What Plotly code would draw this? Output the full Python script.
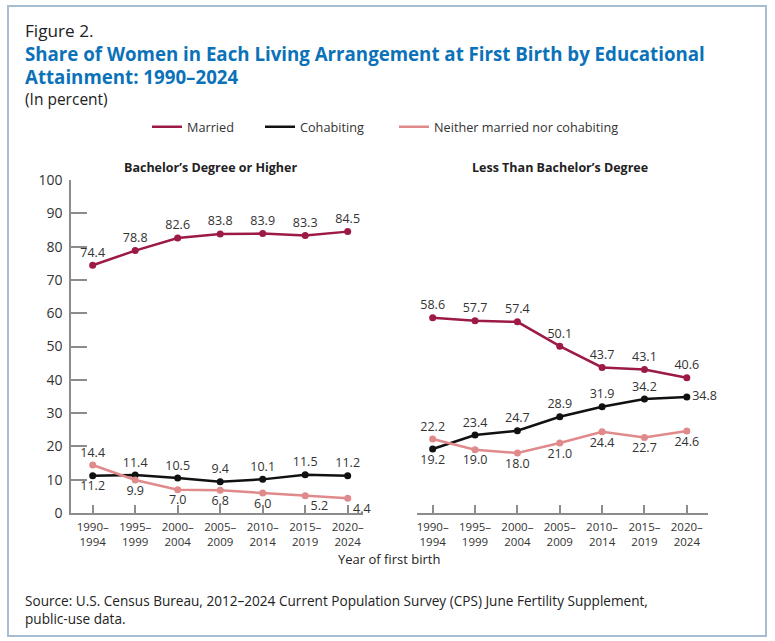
import plotly.graph_objects as go

period_start = ["1990", "1995", "2000", "2005", "2010", "2015", "2020"]
period_end = ["1994", "1999", "2004", "2009", "2014", "2019", "2024"]
yticks = [0, 10, 20, 30, 40, 50, 60, 70, 80, 90, 100]

ba_married = [74.4, 78.8, 82.6, 83.8, 83.9, 83.3, 84.5]
ba_cohab = [11.2, 11.4, 10.5, 9.4, 10.1, 11.5, 11.2]
ba_neither = [14.4, 9.9, 7.0, 6.8, 6.0, 5.2, 4.4]

lt_married = [58.6, 57.7, 57.4, 50.1, 43.7, 43.1, 40.6]
lt_cohab = [19.2, 23.4, 24.7, 28.9, 31.9, 34.2, 34.8]
lt_neither = [22.2, 19.0, 18.0, 21.0, 24.4, 22.7, 24.6]

series_names = ["Married", "Cohabiting", "Neither married nor cohabiting"]

C_MAR = "#9c1a45"
C_COH = "#111111"
C_NEI = "#e08a8b"
BLUE = "#0b72b9"
FONT = "Open Sans"
W, H = 775, 641

xs = list(range(len(period_start)))
period_labels = [f"{s}–<br>{e}" for s, e in zip(period_start, period_end)]
fig = go.Figure()

def add(y, color, xa, ya, pos):
    fig.add_trace(go.Scatter(
        x=xs, y=y, mode="lines+markers+text", showlegend=False,
        line=dict(color=color, width=2.5), marker=dict(color=color, size=7),
        text=[f"{v:.1f}" for v in y], textposition=pos,
        textfont=dict(family=FONT, size=12.5, color="#333333"),
        xaxis=xa, yaxis=ya, cliponaxis=False, hoverinfo="skip"))

tc, bc = "top center", "bottom center"
add(ba_married, C_MAR, "x", "y", [tc]*7)
add(ba_cohab, C_COH, "x", "y", [bc] + [tc]*6)
add(ba_neither, C_NEI, "x", "y", [tc, bc, bc, bc, bc, "bottom right", "bottom right"])
add(lt_married, C_MAR, "x2", "y2", [tc]*7)
add(lt_cohab, C_COH, "x2", "y2", [bc] + [tc]*5 + ["middle right"])
add(lt_neither, C_NEI, "x2", "y2", [tc] + [bc]*6)

# legend-only entries (line symbols)
legend_ids = ["legend", "legend2", "legend3"]
for name, color, lid in zip(series_names, [C_MAR, C_COH, C_NEI], legend_ids):
    fig.add_trace(go.Scatter(x=[None], y=[None], mode="lines", name=name,
                             line=dict(color=color, width=2.5), legend=lid,
                             showlegend=True, hoverinfo="skip"))

ydom = [1 - 513/H, 1 - 180/H]
axcommon = dict(showline=True, linecolor="#8c8c8c", linewidth=1.5,
                ticks="inside", tickcolor="#8c8c8c", tickwidth=1.5,
                showgrid=False, zeroline=False, automargin=False)
xfont = dict(family=FONT, size=11.5, color="#333333")

leg_common = dict(orientation="h", yanchor="middle", xanchor="left",
                  y=1 - 127/H, bgcolor="rgba(0,0,0,0)",
                  font=dict(family=FONT, size=12.7, color="#333333"))

fig.update_layout(
    width=W, height=H, margin=dict(l=0, r=0, t=0, b=0, autoexpand=False),
    paper_bgcolor="white", plot_bgcolor="white",
    font=dict(family=FONT, color="#222222"),
    xaxis=dict(domain=[71/W, 363/W], range=[-0.51, 6.36], anchor="y",
               tickvals=xs, ticktext=period_labels, ticklen=8, ticklabelstandoff=2,
               tickfont=xfont, **axcommon),
    yaxis=dict(domain=ydom, range=[0, 100], anchor="x", tickvals=yticks,
               ticklen=16, ticklabelstandoff=4,
               tickfont=dict(family=FONT, size=14, color="#333333"), **axcommon),
    xaxis2=dict(domain=[417/W, 708/W], range=[-0.37, 6.5], anchor="y2",
                tickvals=xs, ticktext=period_labels, ticklen=8, ticklabelstandoff=2,
                tickfont=xfont, **axcommon),
    yaxis2=dict(domain=ydom, range=[0, 100], anchor="x2", visible=False, automargin=False),
    legend=dict(x=147/W, **leg_common),
    legend2=dict(x=260/W, **leg_common),
    legend3=dict(x=394/W, **leg_common),
    showlegend=True,
)

# Border
fig.add_shape(type="rect", xref="paper", yref="paper",
              x0=8/W, x1=766/W, y0=1 - 636/H, y1=1 - 6/H,
              line=dict(color="#a7bdd1", width=2))

def ann(text, x, y, size, color="#222222", bold=False, xanchor="left"):
    fig.add_annotation(text=f"<b>{text}</b>" if bold else text, xref="paper", yref="paper",
                       x=x/W, y=1 - y/H, xanchor=xanchor, yanchor="middle",
                       showarrow=False, align="left",
                       font=dict(family=FONT, size=size, color=color))

ann("Figure 2.", 23, 30.5, 17.2)
ann("Share of Women in Each Living Arrangement at First Birth by Educational", 23, 53.5, 18.7, BLUE, True)
ann("Attainment: 1990–2024", 23, 76.5, 18.7, BLUE, True)
ann("(In percent)", 23, 98.5, 15.5)
ann("Bachelor’s Degree or Higher", 210, 167, 12.5, bold=True, xanchor="center")
ann("Less Than Bachelor’s Degree", 560, 167, 12.5, bold=True, xanchor="center")
ann("Year of first birth", 389, 559, 13, xanchor="center")
ann("Source: U.S. Census Bureau, 2012–2024 Current Population Survey (CPS) June Fertility Supplement,",
    23, 600, 13.6)
ann("public-use data.", 23, 618, 13.6)

fig.write_html("out.html", config={"displayModeBar": False},
               post_script="document.body.style.margin='0';")
